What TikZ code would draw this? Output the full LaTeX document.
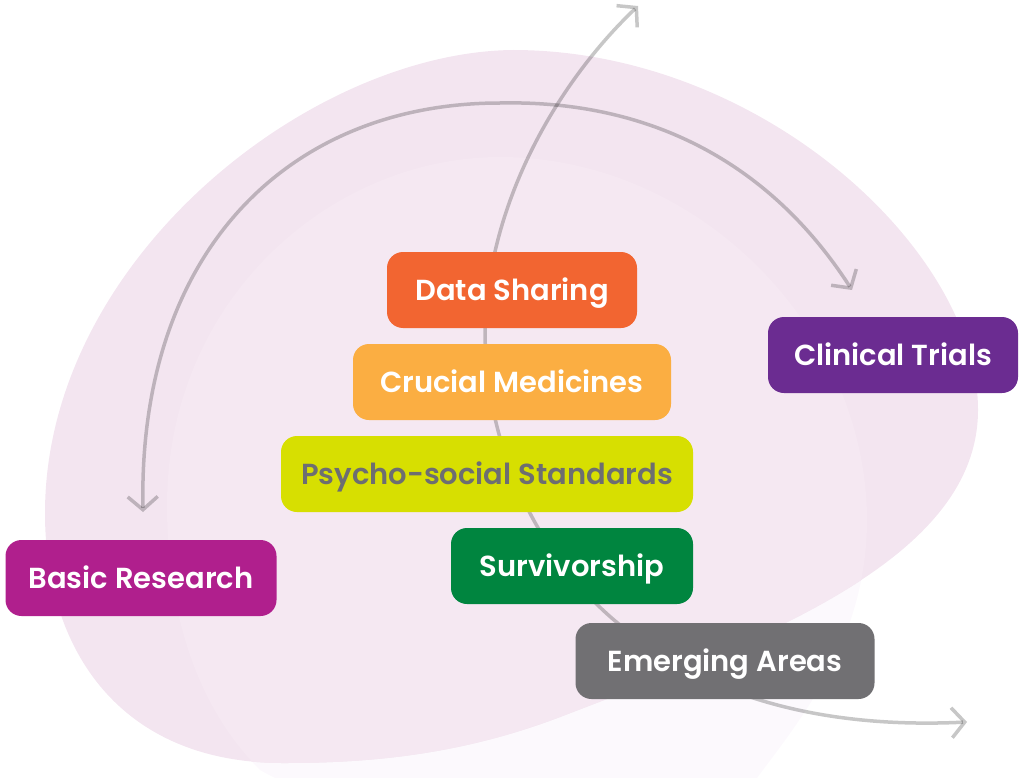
\documentclass[tikz,border=0pt]{standalone}
\usepackage{fontspec}
\newfontfamily\labelfont{Poppins SemiBold}
\usetikzlibrary{arrows.meta}
\definecolor{blobpink}{HTML}{F3E5F0}
\definecolor{blobinner}{HTML}{F5E8F2}
\definecolor{blobfaint}{HTML}{FCF9FD}
\definecolor{datacol}{HTML}{F26531}
\definecolor{medcol}{HTML}{FBAE42}
\definecolor{psycol}{HTML}{D7DF01}
\definecolor{survcol}{HTML}{00853F}
\definecolor{emergcol}{HTML}{717073}
\definecolor{trialcol}{HTML}{6B2C91}
\definecolor{basiccol}{HTML}{B01F8D}
\definecolor{psytext}{HTML}{6D6E71}
\begin{document}
\begin{tikzpicture}[x=1pt,y=-1pt,
    area/.style={rounded corners=16pt, minimum height=76pt, inner sep=0pt,
      text height=20pt, text depth=0pt,
      text=white, font=\labelfont\fontsize{29}{35}\selectfont},
    flow/.style={line width=3.5pt, draw=black, draw opacity=0.22,
      {Straight Barb[length=13pt,width=30pt]}-{Straight Barb[length=13pt,width=30pt]}}]
  \useasboundingbox (0,0) rectangle (1024,778);
  % background blobs
  \fill[blobfaint] (167,505) .. controls (167,300) and (330,157) .. (500,157)
    .. controls (700,157) and (867,330) .. (867,520)
    .. controls (867,640) and (800,720) .. (757,778)
    .. controls (700,850) and (400,850) .. (260,770)
    .. controls (190,700) and (167,600) .. cycle;
  \fill[blobpink] (513,50) .. controls (760,50) and (978,250) .. (978,410)
    .. controls (978,560) and (760,640) .. (560,717)
    .. controls (460,755) and (370,763) .. (283,763)
    .. controls (120,763) and (45,650) .. (45,513)
    .. controls (45,260) and (310,52) .. cycle;
  \begin{scope}
    \clip (513,50) .. controls (760,50) and (978,250) .. (978,410)
      .. controls (978,560) and (760,640) .. (560,717)
      .. controls (460,755) and (370,763) .. (283,763)
      .. controls (120,763) and (45,650) .. (45,513)
      .. controls (45,260) and (310,52) .. cycle;
    \fill[blobinner] (167,505) .. controls (167,300) and (330,157) .. (500,157)
      .. controls (700,157) and (867,330) .. (867,520)
      .. controls (867,640) and (800,720) .. (757,778)
      .. controls (700,850) and (400,850) .. (260,770)
      .. controls (190,700) and (167,600) .. cycle;
  \end{scope}
  % arrows
  \coordinate (arcL) at (143,512);
  \coordinate (arcR) at (852,290);
  \coordinate (sTop) at (638,6);
  \coordinate (sEnd) at (967,722);
  \draw[flow] (arcL) .. controls (138,250) and (290,103) .. (500,103)
    .. controls (640,100) and (765,155) .. (arcR);
  \draw[flow] (sTop) .. controls (560,80) and (488,200) .. (485,330)
    .. controls (485,450) and (540,560) .. (620,625)
    .. controls (690,685) and (800,730) .. (sEnd);
  % boxes
  \node[area, fill=datacol, minimum width=250pt] (data) at (512,290) {Data Sharing};
  \node[area, fill=medcol, minimum width=318pt] (medicines) at (512,382) {Crucial Medicines};
  \node[area, fill=psycol, minimum width=412pt, text=psytext] (psycho) at (487,474) {Psycho-social Standards};
  \node[area, fill=survcol, minimum width=242pt] (survivor) at (572,566) {Survivorship};
  \node[area, fill=emergcol, minimum width=299pt] (emerging) at (725,661) {Emerging Areas};
  \node[area, fill=trialcol, minimum width=250pt] (trials) at (893,355) {Clinical Trials};
  \node[area, fill=basiccol, minimum width=271pt] (basic) at (141,578) {Basic Research};
\end{tikzpicture}
\end{document}
